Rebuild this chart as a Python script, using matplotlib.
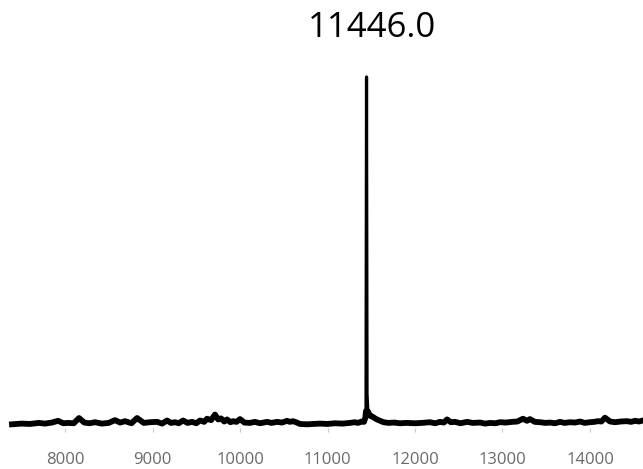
import matplotlib.pyplot as plt

# m/z positions and relative intensity (% of the main peak)
mz = [7394, 7500, 7600, 7700, 7771, 7850, 7920, 7980, 8034, 8100, 8160, 8220,
      8280, 8343, 8420, 8500, 8571, 8630, 8686, 8760, 8823, 8900, 8971, 9052,
      9110, 9166, 9210, 9257, 9300, 9349, 9400, 9452, 9500, 9543, 9590, 9623,
      9670, 9714, 9750, 9783, 9820, 9852, 9890, 9920, 9960, 10000, 10050, 10114,
      10170, 10229, 10270, 10309, 10360, 10423, 10480, 10537, 10570, 10606, 10650,
      10686, 10766, 10840, 10914, 11000, 11086, 11170, 11257, 11310, 11349, 11390,
      11417, 11432, 11440, 11446, 11452, 11460, 11469, 11490, 11514, 11550, 11583,
      11640, 11697, 11760, 11829, 11900, 12000, 12080, 12171, 12230, 12286, 12330,
      12366, 12410, 12457, 12520, 12594, 12660, 12743, 12800, 12857, 12920, 12971,
      13040, 13109, 13170, 13234, 13280, 13314, 13370, 13429, 13490, 13543, 13600,
      13657, 13710, 13771, 13830, 13886, 13940, 14000, 14050, 14091, 14130, 14171,
      14230, 14286, 14350, 14423, 14470, 14514, 14560, 14606]
intensity = [0.2, 0.4, 0.3, 0.6, 0.4, 0.7, 1.2, 0.5, 0.6, 0.5, 2.0, 0.7,
             0.5, 0.8, 0.4, 0.6, 1.4, 0.7, 1.1, 0.5, 2.0, 0.6, 0.8, 0.9,
             0.4, 1.3, 0.6, 0.8, 0.5, 1.3, 0.6, 0.9, 0.5, 1.3, 0.9, 1.8,
             1.4, 3.0, 1.6, 1.9, 1.0, 1.6, 0.8, 1.1, 0.9, 1.7, 0.7, 0.6,
             0.9, 0.5, 0.7, 0.9, 0.6, 0.9, 0.7, 1.2, 0.9, 1.1, 0.7,
             0.3, 0.2, 0.3, 0.4, 0.3, 0.5, 0.4, 0.6, 0.8, 0.6, 1.0,
             0.9, 2.0, 4.5, 100.0, 9.0, 4.5, 3.5, 2.6, 2.4, 1.8, 1.4,
             0.8, 0.6, 0.7, 0.5, 0.6, 0.5, 0.6, 0.8, 0.5, 0.9, 0.7,
             1.6, 0.8, 0.9, 0.5, 0.9, 0.6, 0.7, 0.4, 0.6, 0.5, 0.8,
             0.7, 0.9, 1.0, 1.8, 1.2, 1.7, 0.9, 0.8, 0.6, 0.7, 0.5,
             0.9, 0.6, 0.8, 0.7, 1.0, 0.6, 0.8, 0.9, 1.1, 1.0, 2.1,
             1.0, 0.8, 1.0, 1.1, 0.9, 1.2, 1.0, 1.3]
ticks = [8000, 9000, 10000, 11000, 12000, 13000, 14000]
peak_label = "11446.0"

W, H = 643, 469
fig = plt.figure(figsize=(W / 100, H / 100), dpi=100)
# axes placed in pixels: value 100 at y=77, value 0 at y=425
top_px, base_px = 77, 425
ppu = (base_px - top_px) / 100.0
ymin = -1.0
bottom_px = base_px - ymin * ppu
ax = fig.add_axes([12 / W, 1 - bottom_px / H, (W - 12) / W, (bottom_px - top_px) / H])

# thin stroke for the spike, thicker stroke for the noisy baseline band
ax.plot(mz, intensity, color='black', lw=2.3, clip_on=False)
noise = [min(v, 4.0) for v in intensity]
ax.plot(mz, noise, color='black', lw=4.2, clip_on=False)
ax.set_xlim(7394, 14606)
ax.set_ylim(ymin, 100)

for s in ax.spines.values():
    s.set_visible(False)
ax.set_yticks([])
ax.set_xticks(ticks)
ax.set_xticklabels([str(t) for t in ticks], family='Open Sans', fontsize=12, color='#6a6a6a')
ax.tick_params(axis='x', length=3, width=0.8, color='#c8c8c8', pad=14)

fig.text(372 / W, 1 - 28 / H, peak_label, family='Open Sans', fontsize=25,
         ha='center', va='center', color='black')

fig.savefig('out.png', dpi=100)
